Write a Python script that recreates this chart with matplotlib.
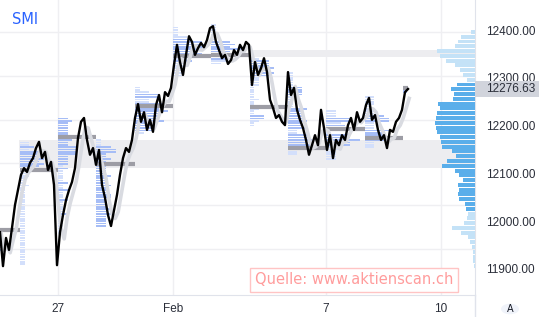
import numpy as np
import pandas as pd
import matplotlib
matplotlib.use("Agg")
import matplotlib.pyplot as plt
import matplotlib.transforms as mtrans
from matplotlib.patches import Rectangle, Circle
from matplotlib.lines import Line2D

# SMI, one sample per step (a session is ~12.8 steps wide)
price = np.array([
    11977, 11906, 11965, 11940, 11986, 12034, 12065, 12097, 12111, 12103,
    12122, 12132, 12153, 12166, 12132, 12145, 12107, 12124, 12076, 11908,
    11977, 12013, 12044, 12065, 12082, 12111, 12174, 12208, 12216, 12170,
    12139, 12153, 12118, 12149, 12076, 12049, 12013, 11990, 12023, 12055,
    12097, 12132, 12153, 12145, 12170, 12216, 12245, 12208, 12228, 12191,
    12212, 12187, 12243, 12264, 12228, 12270, 12262, 12279, 12327, 12369,
    12333, 12306, 12348, 12387, 12375, 12348, 12362, 12373, 12364, 12379,
    12404, 12408, 12375, 12358, 12341, 12348, 12329, 12337, 12358, 12348,
    12369, 12358, 12375, 12369, 12285, 12333, 12306, 12320, 12341, 12312,
    12254, 12237, 12216, 12222, 12208, 12201, 12312, 12264, 12279, 12233,
    12212, 12195, 12170, 12139, 12159, 12180, 12159, 12233, 12195, 12149,
    12180, 12132, 12170, 12159, 12180, 12170, 12201, 12216, 12191, 12228,
    12208, 12216, 12243, 12258, 12212, 12222, 12191, 12170, 12180, 12153,
    12191, 12187, 12208, 12216, 12233, 12270, 12276.63])
t = np.arange(len(price))

# session boundaries (in steps) and point of control of each session
session_starts = [-6.2, 6.6, 19.3, 32.1, 44.9, 57.6, 70.4, 83.2, 95.9, 108.7, 121.5, 134.2, 147.0]
poc_levels = [11982, 12107, 12176, 12120, 12241, 12346, 12348, 12239, 12153, 12193, 12174, 12279]

# highlighted price zones: (low, high, start step)
zones = [(12344, 12358, 82.8), (12111, 12170, 6.4)]

# horizontal grid levels
grid_levels = [12396, 12304, 12212, 12122, 12034, 11942]

# visible range volume profile (right side)
vp_levels = np.arange(12396, 11900, -10)
vp_volume = [4, 14, 17, 20, 38, 35, 29, 20, 15, 12, 8,
             18, 24, 21, 22, 37, 35, 38, 39, 40, 39, 38, 35, 34, 33, 23, 19,
             28, 33, 20, 16, 12, 17, 16, 17, 16, 10, 9,
             7, 8, 11, 23, 14, 7, 5, 3, 2, 2, 2, 1]
vp_value_area = (12020, 12290)

tick_pos = [19.3, 57.6, 108.7, 147.0]
tick_labels = ['27', 'Feb', '7', '10']
price_ticks = [11900, 12000, 12100, 12200, 12300, 12400]

W, H = 539, 317
fig = plt.figure(figsize=(W / 100, H / 100), dpi=100)
fig.patch.set_facecolor('white')
ax = fig.add_axes([0, 22 / H, 475 / W, 295 / H])
ax.set_xlim(0, 475 / 3)
ax.set_ylim(11845.6, 12462.8)

for g in grid_levels:
    ax.axhline(g, color='#efeff2', lw=1, zorder=0.2)
for xp in tick_pos:
    ax.axvline(xp, color='#efeff2', lw=1, zorder=0.2)

for lo, hi, x0 in zones:
    ax.add_patch(Rectangle((x0, lo), 200 - x0, hi - lo, color='#ededf0', lw=0, zorder=0.5))

# session profiles (time spent at each 5-point level)
for k in range(len(session_starts) - 1):
    s, e = session_starts[k], session_starts[k + 1]
    m = (t >= s) & (t < e)
    p = price[m]
    if len(p) < 2:
        continue
    a, b = np.minimum(p[:-1], p[1:]), np.maximum(p[:-1], p[1:])
    levels = np.arange(np.floor(p.min() / 5) * 5, p.max() + 5, 5)
    counts = np.array([np.sum((a <= lv + 2.5) & (b >= lv - 2.5)) for lv in levels])
    cols = np.where(counts >= 0.5 * counts.max(), '#a6bdf6', '#d3dffb')
    ax.barh(levels, counts * 1.6, left=s, height=3.4, color=cols, lw=0, zorder=1)
    x1 = min(e, t[-1])
    ax.plot([max(s, 0), x1], [poc_levels[k], poc_levels[k]], color='#9d9da5', lw=3, zorder=1.5,
            solid_capstyle='butt')

shadow = pd.Series(price).rolling(3, min_periods=1).mean()
ax.plot(t + 0.4, shadow - 3, color='#d9dbe1', lw=2.6, zorder=2)
ax.plot(t, price, color='black', lw=1.7, zorder=3)

for side in ['top', 'left']:
    ax.spines[side].set_visible(False)
for side in ['right', 'bottom']:
    ax.spines[side].set_color('#e0e3eb')

ax.yaxis.tick_right()
ax.set_yticks(price_ticks)
ax.set_yticklabels(['%.2f' % v for v in price_ticks])
ax.set_xticks(tick_pos)
ax.set_xticklabels(tick_labels)
ax.tick_params(axis='y', length=0, pad=8, labelsize=8.5, labelcolor='#2a2e39')
ax.tick_params(axis='x', length=0, pad=6, labelsize=8.5, labelcolor='#2a2e39')
for lab in ax.get_xticklabels() + ax.get_yticklabels():
    lab.set_fontfamily('Liberation Sans')

# right-side volume profile
ax2 = ax.twiny()
ax2.set_xlim(475, 0)
vp_cols = ['#5aaeea' if vp_value_area[0] <= lv <= vp_value_area[1] else '#c4e2f7' for lv in vp_levels]
ax2.barh(vp_levels, vp_volume, height=8.3, color=vp_cols, lw=0, zorder=2)
ax2.set_xticks([])
for sp in ax2.spines.values():
    sp.set_visible(False)

# last price label
last = price[-1]
tr = mtrans.blended_transform_factory(ax.transAxes, ax.transData)
ax.add_patch(Rectangle((1.0, last - 16.7), 0.2, 33.4, transform=tr, color='#d1d4dc',
                       lw=0, clip_on=False, zorder=5))
ax.text(1.0 + 11 / 475, last, '%.2f' % last, transform=tr, ha='left', va='center',
        fontsize=8.5, color='#2a2e39', family='Liberation Sans', zorder=6)

fig.text(12 / W, 1 - 20 / H, 'SMI', color='#2962ff', fontsize=10.5, va='center', ha='left')
fig.text(354 / W, 1 - 280 / H, 'Quelle: www.aktienscan.ch', color='#ff9c9c', fontsize=10.5,
         ha='center', va='center',
         bbox=dict(boxstyle='square,pad=0.32', fc='white', ec='#ffc4c4', lw=1))

fig.add_artist(Line2D([475 / W, 475 / W], [0, 22 / H], color='#e0e3eb', lw=1))
fig.add_artist(Circle((510 / W, 1 - 309 / H), 9 / W, transform=fig.transFigure,
                      fc='#f0f3fa', ec='none'))
fig.text(510 / W, 1 - 309 / H, 'A', fontsize=7, color='#131722', ha='center', va='center')

fig.savefig('out.png', dpi=100)
